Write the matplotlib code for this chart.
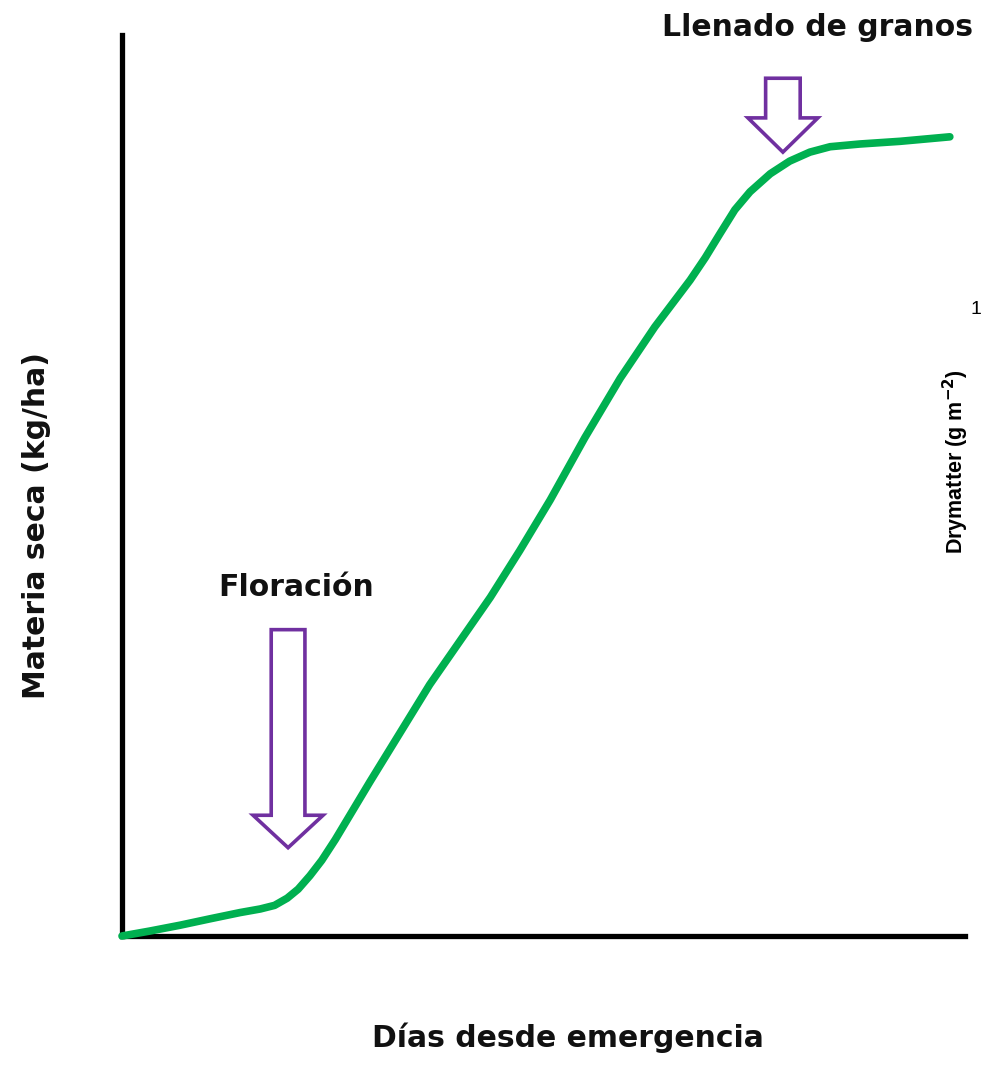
import matplotlib
matplotlib.use("Agg")
import matplotlib.pyplot as plt
from matplotlib.patches import Polygon

# Data (arbitrary units, x: days, y: dry matter)
days = [0, 3.3, 6.9, 10.4, 14.0, 16.4, 18.1, 19.6, 20.9, 22.3, 23.7, 25.3,
        29.4, 36.5, 43.7, 47.2, 50.8, 54.9, 59.1, 63.2, 67.4, 69.2, 70.9,
        72.7, 74.5, 76.9, 79.2, 81.6, 84.0, 87.5, 92.3, 98.2]
dry_matter = [0, 0.55, 1.2, 1.9, 2.6, 3.0, 3.4, 4.2, 5.2, 6.7, 8.4, 10.7,
              17.1, 27.9, 37.6, 42.8, 48.4, 55.3, 61.9, 67.6, 72.8, 75.3, 77.9,
              80.6, 82.6, 84.6, 86.0, 87.0, 87.6, 87.9, 88.2, 88.7]

annot_labels = ["Floración", "Llenado de granos"]

W, H = 986, 1066
fig = plt.figure(figsize=(W / 100, H / 100), dpi=100)
ax = fig.add_axes([122 / W, (H - 936) / H, (965 - 122) / W, (936 - 35) / H])
ax.set_xlim(0, 100)
ax.set_ylim(0, 100)
for s in ["top", "right"]:
    ax.spines[s].set_visible(False)
for s in ["left", "bottom"]:
    ax.spines[s].set_linewidth(3.8)
    ax.spines[s].set_color("black")
    ax.spines[s].set_capstyle("projecting")
ax.set_xticks([])
ax.set_yticks([])

ax.plot(days, dry_matter, color="#00B050", lw=5.5, solid_capstyle="round",
        solid_joinstyle="round", clip_on=False, zorder=3)

purple = "#7030A0"


def down_arrow(xc, shaft_w, head_w, y_top, y_neck, y_tip):
    pts = [(xc - shaft_w / 2, y_top), (xc + shaft_w / 2, y_top),
           (xc + shaft_w / 2, y_neck), (xc + head_w / 2, y_neck),
           (xc, y_tip), (xc - head_w / 2, y_neck), (xc - shaft_w / 2, y_neck)]
    ax.add_patch(Polygon(pts, closed=True, fc="white", ec=purple, lw=2.6,
                         joinstyle="miter", clip_on=False, zorder=4))


down_arrow(19.7, 4.0, 8.3, 34.0, 13.4, 9.8)
down_arrow(78.4, 4.1, 8.3, 95.2, 90.8, 87.0)

bold = dict(fontsize=21.5, fontweight="bold", family="DejaVu Sans", color="#111111")
fig.text(296 / W, 1 - 588 / H, annot_labels[0], ha="center", va="center", **bold)
fig.text(818 / W, 1 - 27 / H, annot_labels[1], ha="center", va="center", **bold)
fig.text(568 / W, 1 - 1038 / H, "Días desde emergencia", ha="center", va="center", **bold)
fig.text(37 / W, 1 - 526 / H, "Materia seca (kg/ha)", ha="center", va="center",
         rotation=90, **bold)

fig.text(956 / W, 1 - 462 / H, r"Drymatter (g m$^{\mathbf{-2}}$)", ha="center", va="center",
         rotation=90, fontsize=15.5, fontweight="bold", family="Liberation Sans")
fig.text(971 / W, 1 - 310 / H, "1", ha="left", va="center", fontsize=14,
         family="Liberation Sans")

fig.savefig("out.png", dpi=100)
